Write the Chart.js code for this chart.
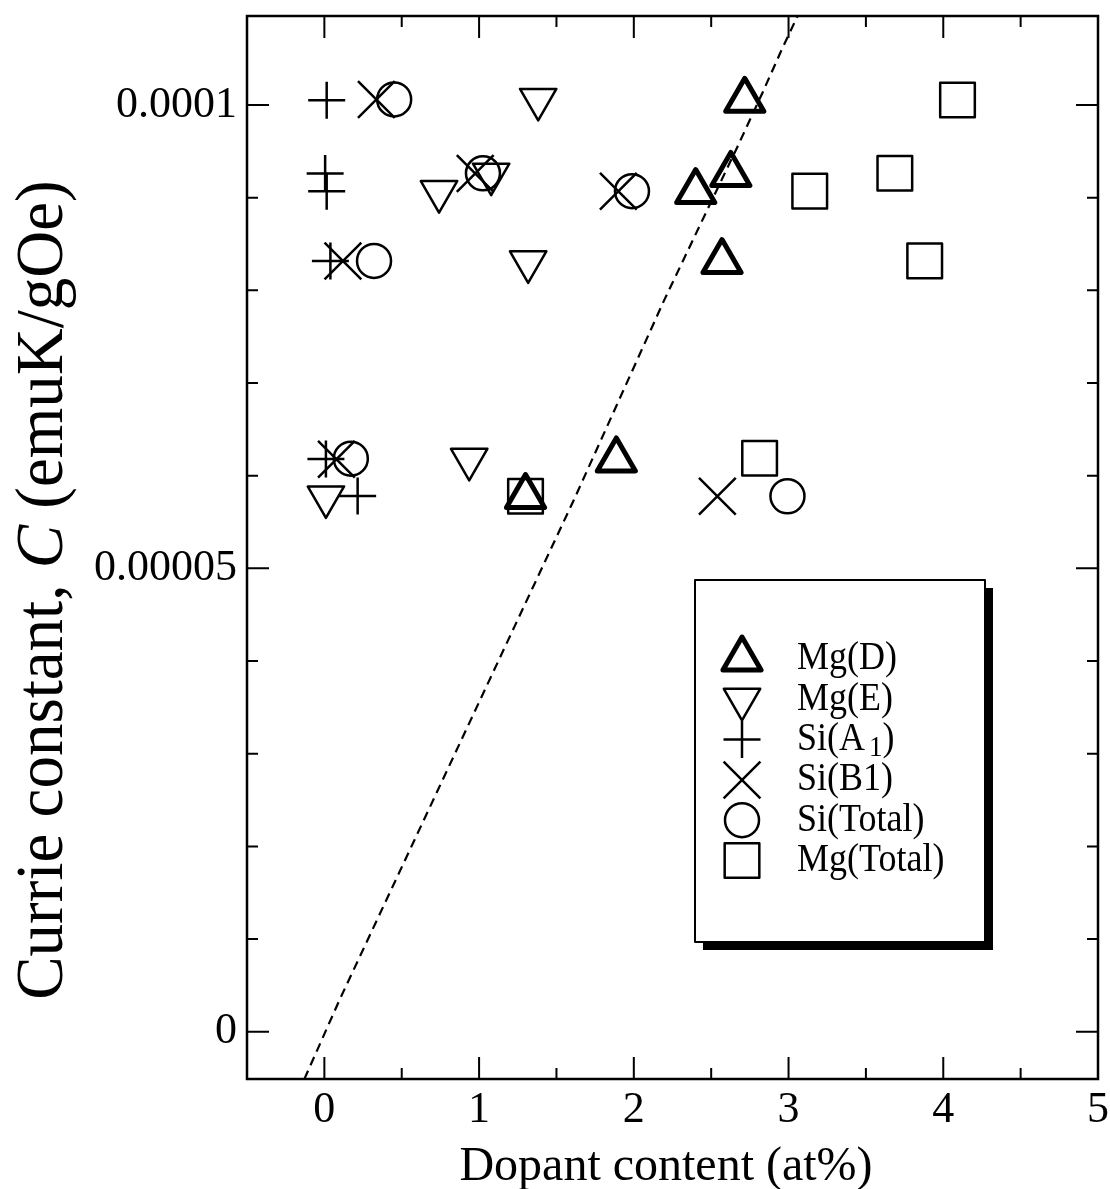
<!DOCTYPE html>
<html>
<head>
<meta charset="utf-8">
<title>Currie constant vs dopant content</title>
<script src="https://cdn.jsdelivr.net/npm/chart.js@4/dist/chart.umd.min.js"></script>
<style>
  html, body { margin: 0; padding: 0; background: #fff; }
  canvas { display: block; }
</style>
</head>
<body>
<canvas id="chart" width="1110" height="1189"></canvas>
<script>
// ---- data -------------------------------------------------------------
const seriesNames = ['Mg(D)', 'Mg(E)', 'Si(A_1)', 'Si(B1)', 'Si(Total)', 'Mg(Total)'];

const mgD_x = [2.717, 2.627, 2.40, 2.57, 1.887, 1.30];
const mgD_y = [1.005e-4, 9.25e-5, 9.065e-5, 8.31e-5, 6.17e-5, 5.775e-5];

const mgE_x = [1.382, 0.741, 1.078, 1.317, 0.936, 0.01];
const mgE_y = [1.006e-4, 9.065e-5, 9.253e-5, 8.307e-5, 6.176e-5, 5.77e-5];

const siA1_x = [0.015, 0.005, 0.015, 0.039, 0.01, 0.215];
const siA1_y = [1.005e-4, 9.26e-5, 9.07e-5, 8.317e-5, 6.18e-5, 5.781e-5];

const siB1_x = [0.336, 0.975, 1.90, 0.12, 0.078, 2.54];
const siB1_y = [1.006e-4, 9.26e-5, 9.07e-5, 8.317e-5, 6.178e-5, 5.778e-5];

const siTotal_x = [0.451, 1.025, 1.988, 0.321, 0.171, 2.993];
const siTotal_y = [1.006e-4, 9.263e-5, 9.07e-5, 8.317e-5, 6.183e-5, 5.778e-5];

const mgTotal_x = [4.092, 3.687, 3.137, 3.880, 2.813, 1.30];
const mgTotal_y = [1.0054e-4, 9.263e-5, 9.07e-5, 8.317e-5, 6.188e-5, 5.778e-5];

// dashed guide line
const guide_x = [-0.129, 0.097, 1.613, 2.198, 2.670, 2.831, 2.954, 3.058];
const guide_y = [-5.1e-6, 3.4e-6, 5.74e-5, 7.9e-5, 9.55e-5, 1.013e-4, 1.059e-4, 1.096e-4];

// axes
const xMajorTicks = [0, 1, 2, 3, 4, 5];
const xMinorTicks = [0.5, 1.5, 2.5, 3.5, 4.5];
const xTickLabels = ['0', '1', '2', '3', '4', '5'];
const yMajorTicks = [0, 5e-5, 1e-4];
const yMinorTicks = [1e-5, 2e-5, 3e-5, 4e-5, 6e-5, 7e-5, 8e-5, 9e-5];
const yTickLabels = ['0', '0.00005', '0.0001'];

const xTitle = 'Dopant content (at%)';
const yTitleParts = [
  { text: 'Currie constant, ', italic: false },
  { text: 'C', italic: true },
  { text: ' (emuK/gOe)', italic: false }
];

// ---- drawing ----------------------------------------------------------
const FONT = "'Liberation Serif', 'Times New Roman', Times, serif";
const pts = (xs, ys) => xs.map((x, i) => ({ x, y: ys[i] }));

const markerStyles = [
  { pointStyle: 'triangle', radius: 22, rotation: 0,   borderWidth: 5 },
  { pointStyle: 'triangle', radius: 21, rotation: 180, borderWidth: 2.5 },
  { pointStyle: 'cross',    radius: 18.5, rotation: 0, borderWidth: 2.5 },
  { pointStyle: 'crossRot', radius: 26, rotation: 0,   borderWidth: 2.5 },
  { pointStyle: 'circle',   radius: 17, rotation: 0,   borderWidth: 2.5 },
  { pointStyle: 'rect',     radius: 24.5, rotation: 0, borderWidth: 2.5 }
];

const seriesData = [
  pts(mgD_x, mgD_y), pts(mgE_x, mgE_y), pts(siA1_x, siA1_y),
  pts(siB1_x, siB1_y), pts(siTotal_x, siTotal_y), pts(mgTotal_x, mgTotal_y)
];

const datasets = seriesData.map((data, i) => ({
  label: seriesNames[i],
  data,
  showLine: false,
  pointStyle: markerStyles[i].pointStyle,
  pointRadius: markerStyles[i].radius,
  pointRotation: markerStyles[i].rotation,
  pointBorderWidth: markerStyles[i].borderWidth,
  borderColor: '#000',
  backgroundColor: 'rgba(0,0,0,0)',
  order: 1
}));

datasets.push({
  label: 'guide',
  data: pts(guide_x, guide_y),
  showLine: true,
  borderColor: '#000',
  borderWidth: 2.2,
  borderDash: [9, 6],
  pointRadius: 0,
  fill: false,
  tension: 0,
  order: 2
});

// frame, inward ticks and axis titles
const framePlugin = {
  id: 'frame',
  beforeDatasetsDraw(chart) {
    chart.ctx.lineJoin = 'round';
  },
  afterDraw(chart) {
    const { ctx, chartArea: a, scales: { x, y } } = chart;
    ctx.save();
    ctx.strokeStyle = '#000';
    ctx.lineCap = 'butt';
    ctx.lineWidth = 2;
    const major = 22, minor = 11;
    const vTick = (v, len) => {
      const px = x.getPixelForValue(v);
      ctx.beginPath();
      ctx.moveTo(px, a.bottom); ctx.lineTo(px, a.bottom - len);
      ctx.moveTo(px, a.top); ctx.lineTo(px, a.top + len);
      ctx.stroke();
    };
    const hTick = (v, len) => {
      const py = y.getPixelForValue(v);
      ctx.beginPath();
      ctx.moveTo(a.left, py); ctx.lineTo(a.left + len, py);
      ctx.moveTo(a.right, py); ctx.lineTo(a.right - len, py);
      ctx.stroke();
    };
    xMajorTicks.forEach(v => vTick(v, major));
    xMinorTicks.forEach(v => vTick(v, minor));
    yMajorTicks.forEach(v => hTick(v, major));
    yMinorTicks.forEach(v => hTick(v, minor));

    ctx.lineWidth = 2.5;
    ctx.lineJoin = 'miter';
    ctx.strokeRect(a.left, a.top, a.right - a.left, a.bottom - a.top);

    // x title
    ctx.fillStyle = '#000';
    ctx.font = `48px ${FONT}`;
    ctx.textAlign = 'center';
    ctx.textBaseline = 'alphabetic';
    ctx.fillText(xTitle, 666, 1180);

    // y title (rotated, italic symbol)
    const size = 65;
    const fontOf = p => `${p.italic ? 'italic ' : ''}${size}px ${FONT}`;
    let total = 0;
    const widths = yTitleParts.map(p => { ctx.font = fontOf(p); const w = ctx.measureText(p.text).width; total += w; return w; });
    ctx.save();
    ctx.translate(62, 590);
    ctx.rotate(-Math.PI / 2);
    ctx.scale(1, 1.04);
    ctx.textAlign = 'left';
    let cx = -total / 2;
    yTitleParts.forEach((p, i) => {
      ctx.font = fontOf(p);
      ctx.fillText(p.text, cx, 0);
      cx += widths[i];
    });
    ctx.restore();
    ctx.restore();
  }
};

// boxed legend with drop shadow
const legendPlugin = {
  id: 'boxLegend',
  afterDraw(chart) {
    const ctx = chart.ctx;
    const L = { x: 695, y: 580, w: 290, h: 362, shadow: 8 };
    ctx.save();
    ctx.fillStyle = '#000';
    ctx.fillRect(L.x + L.shadow, L.y + L.shadow, L.w, L.h);
    ctx.fillStyle = '#fff';
    ctx.fillRect(L.x, L.y, L.w, L.h);
    ctx.strokeStyle = '#000';
    ctx.lineWidth = 2;
    ctx.strokeRect(L.x, L.y, L.w, L.h);

    const symX = 742, textX = 797, row0 = 659, step = 40.3;
    seriesNames.forEach((name, i) => {
      const cy = row0 + i * step;
      const m = markerStyles[i];
      ctx.save();
      ctx.strokeStyle = '#000';
      ctx.fillStyle = 'rgba(0,0,0,0)';
      ctx.lineWidth = m.borderWidth;
      ctx.lineJoin = 'round';
      Chart.helpers.drawPoint(ctx, {
        pointStyle: m.pointStyle, radius: m.radius, rotation: m.rotation, borderWidth: m.borderWidth
      }, symX, cy);
      ctx.restore();

      // label text, slightly tall glyphs
      ctx.save();
      ctx.translate(textX, cy);
      ctx.scale(1, 1.1);
      ctx.fillStyle = '#000';
      ctx.textAlign = 'left';
      ctx.textBaseline = 'middle';
      const sub = name.indexOf('_');
      if (sub < 0) {
        ctx.font = `36px ${FONT}`;
        ctx.fillText(name, 0, 0);
      } else {
        const head = name.slice(0, sub), subText = name.charAt(sub + 1), tail = name.slice(sub + 2);
        ctx.font = `36px ${FONT}`;
        ctx.fillText(head, 0, 0);
        let px = ctx.measureText(head).width + 4;
        ctx.font = `27px ${FONT}`;
        ctx.fillText(subText, px, 8);
        px += ctx.measureText(subText).width;
        ctx.font = `36px ${FONT}`;
        ctx.fillText(tail, px, 0);
      }
      ctx.restore();
    });
    ctx.restore();
  }
};

// keep the plot frame at fixed pixel bounds (no automatic label overflow padding)
const zeroPad = s => { s.paddingTop = 0; s.paddingBottom = 0; s.paddingLeft = 0; s.paddingRight = 0; };

function build() {
  new Chart(document.getElementById('chart'), {
    type: 'scatter',
    data: { datasets },
    options: {
      responsive: false,
      animation: false,
      devicePixelRatio: 1,
      events: [],
      layout: { autoPadding: false, padding: { top: 16, right: 12, left: 0, bottom: 0 } },
      plugins: { legend: { display: false }, tooltip: { enabled: false } },
      scales: {
        x: {
          type: 'linear', min: -0.5, max: 5,
          grid: { display: false, drawTicks: false },
          border: { display: false },
          afterBuildTicks: s => { s.ticks = xMajorTicks.map(v => ({ value: v })); },
          ticks: {
            autoSkip: false, maxRotation: 0, padding: 5, color: '#000',
            font: { family: FONT, size: 44 },
            callback: (v, i) => xTickLabels[i]
          },
          afterFit: s => { s.height = 110; zeroPad(s); }
        },
        y: {
          type: 'linear', min: -5.1e-6, max: 1.096e-4,
          grid: { display: false, drawTicks: false },
          border: { display: false },
          afterBuildTicks: s => { s.ticks = yMajorTicks.map(v => ({ value: v })); },
          ticks: {
            autoSkip: false, padding: 10, color: '#000',
            font: { family: FONT, size: 44 },
            callback: (v, i) => yTickLabels[i]
          },
          afterFit: s => { s.width = 247; zeroPad(s); }
        }
      }
    },
    plugins: [framePlugin, legendPlugin]
  });
}

Promise.all([
  document.fonts.load(`44px ${FONT}`),
  document.fonts.load(`italic 65px ${FONT}`)
]).then(build, build);
</script>
</body>
</html>
